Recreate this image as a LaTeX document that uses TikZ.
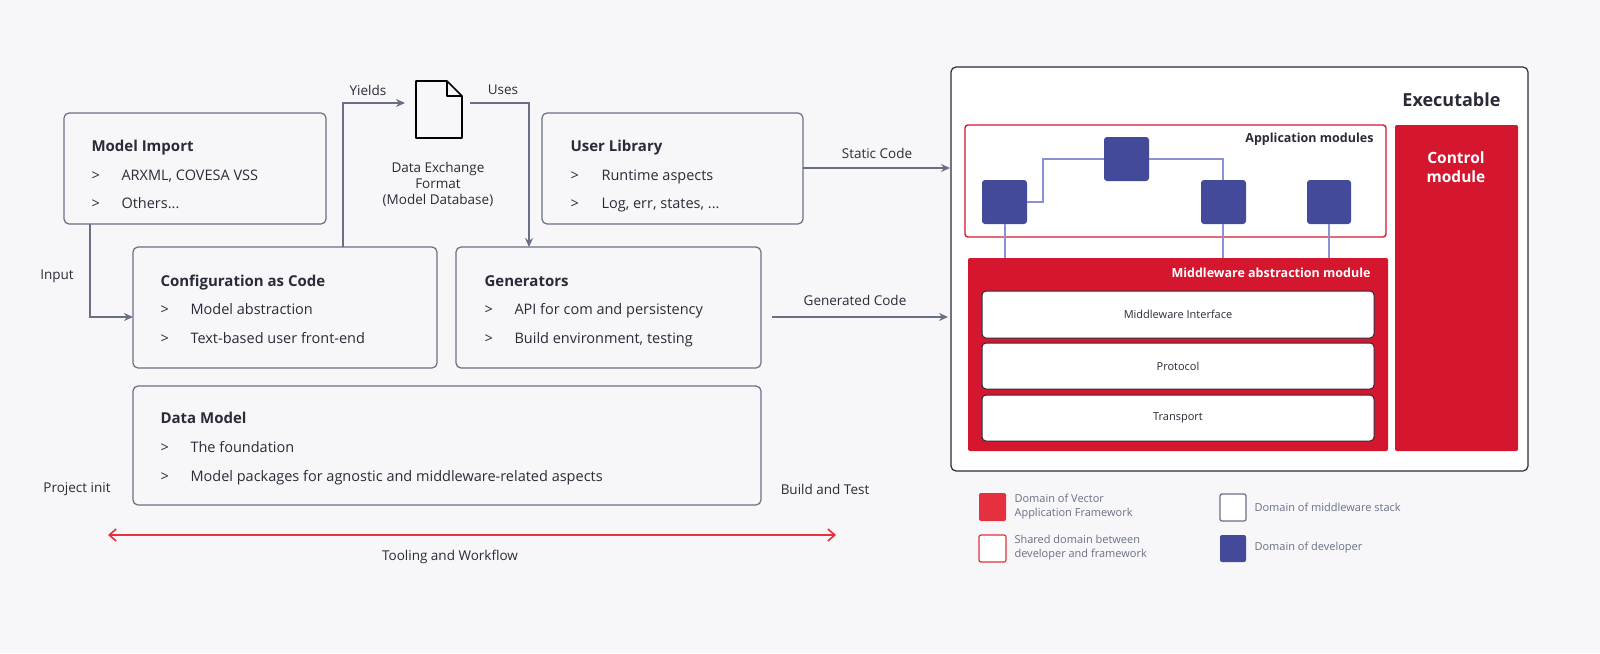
\documentclass[tikz,border=0pt]{standalone}
\usepackage{fontspec}
\setmainfont{Open Sans}
\usetikzlibrary{arrows.meta}
\definecolor{bg}{HTML}{F7F7F9}
\definecolor{gr}{HTML}{6A6F85}
\definecolor{tx}{HTML}{2A2B38}
\definecolor{rd}{HTML}{D4162F}
\definecolor{lrd}{HTML}{E4303F}
\definecolor{bl}{HTML}{434A9A}
\definecolor{lbl}{HTML}{8A90D0}
\begin{document}
\begin{tikzpicture}[x=1pt,y=-1pt,
  box/.style={draw=gr,line width=1.2pt,rounded corners=5pt,fill=bg},
  ttl/.style={anchor=base west,text=tx,font=\fontsize{15}{18}\selectfont\bfseries},
  itm/.style={anchor=base west,text=tx,font=\fontsize{14.5}{17}\selectfont},
  lbl/.style={text=tx,font=\fontsize{13.5}{16}\selectfont},
  arr/.style={draw=gr,line width=1.6pt,-{Stealth[length=9pt,width=8pt]}},
  sq/.style={fill=bl,rounded corners=3pt},
  sm/.style={text=tx,font=\fontsize{11}{13}\selectfont},
  lg/.style={anchor=west,text=gr,font=\fontsize{11}{14}\selectfont,align=left}]
\fill[bg] (0,0) rectangle (1600,653);
\useasboundingbox (0,0) rectangle (1600,653);
% boxes
\draw[box] (64,113) rectangle (326,224);
\node[ttl] (mi) at (88,151) {Model Import};
\node[itm] at (88,180) {>}; \node[itm] at (118,180) {ARXML, COVESA VSS};
\node[itm] at (88,208) {>}; \node[itm] at (118,208) {Others...};
\coordinate (miB) at (90,224);

\draw[box] (133,247) rectangle (437,368);
\node[ttl] (cc) at (157,286) {Configuration as Code};
\node[itm] at (157,314) {>}; \node[itm] at (187,314) {Model abstraction};
\node[itm] at (157,343) {>}; \node[itm] at (187,343) {Text-based user front-end};
\coordinate (ccL) at (133,317); \coordinate (ccT) at (343,247);

\draw[box] (456,247) rectangle (761,368);
\node[ttl] (ge) at (481,286) {Generators};
\node[itm] at (481,314) {>}; \node[itm] at (511,314) {API for com and persistency};
\node[itm] at (481,343) {>}; \node[itm] at (511,343) {Build environment, testing};
\coordinate (geT) at (529,247);

\draw[box] (542,113) rectangle (803,224);
\node[ttl] (ul) at (567,151) {User Library};
\node[itm] at (567,180) {>}; \node[itm] at (598,180) {Runtime aspects};
\node[itm] at (567,208) {>}; \node[itm] at (598,208) {Log, err, states, ...};
\coordinate (ulR) at (803,168);

\draw[box] (133,386) rectangle (761,505);
\node[ttl] (dm) at (157,423) {Data Model};
\node[itm] at (157,452) {>}; \node[itm] at (187,452) {The foundation};
\node[itm] at (157,481) {>}; \node[itm] at (187,481) {Model packages for agnostic and middleware-related aspects};

% document icon
\draw[line width=1.6pt,black,line join=round] (416,81) -- (447,81) -- (462,96) -- (462,138) -- (416,138) -- cycle;
\draw[line width=1.6pt,black,line join=round] (447,81) -- (447,96) -- (462,96);
\coordinate (docL) at (405,103); \coordinate (docR) at (470,103);
\node[lbl,align=center] (dx) at (438,184) {Data Exchange\\Format\\(Model Database)};
\node[lbl] at (368,90) {Yields};
\node[lbl] at (503,90) {Uses};

% arrows
\draw[arr] (ccT) |- (docL);
\draw[arr] (docR) -| (geT);
\draw[arr] (miB) |- (ccL);
\node[lbl] at (57,276) {Input};
\coordinate (ex1) at (950,168);
\draw[arr] (ulR) -- (ex1);
\node[lbl] at (877,153) {Static Code};
\coordinate (gs) at (772,317); \coordinate (ge2) at (948,317);
\draw[arr] (gs) -- (ge2);
\node[lbl] at (855,300) {Generated Code};
\node[lbl] at (77,489) {Project init};
\node[lbl] at (825,489) {Build and Test};
\coordinate (t1) at (108,535); \coordinate (t2) at (836,535);
\draw[lrd,line width=1.6pt,{Straight Barb[length=7pt,width=12pt]}-{Straight Barb[length=7pt,width=12pt]}] (t1) -- (t2);
\node[lbl] at (450,557) {Tooling and Workflow};

% executable
\draw[fill=white,draw=tx,line width=1.2pt,rounded corners=5pt] (951,67) rectangle (1528,471);
\node[anchor=east,text=tx,font=\fontsize{18}{20}\selectfont\bfseries] at (1504,100) {Executable};
\draw[draw=rd,line width=1.4pt,fill=white,rounded corners=3pt] (965,125) rectangle (1386,237);
\node[anchor=east,text=tx,font=\fontsize{12.5}{14}\selectfont\bfseries] at (1377,139) {Application modules};
\fill[rd,rounded corners=2pt] (1395,125) rectangle (1518,451);
\node[white,align=center,font=\fontsize{15.5}{19}\selectfont\bfseries] at (1456,167) {Control\\module};
\fill[rd,rounded corners=2pt] (968,258) rectangle (1388,451);
\node[anchor=east,white,font=\fontsize{12.5}{14}\selectfont\bfseries] at (1374,273) {Middleware abstraction module};
\foreach \n/\a/\b/\t in {mw/291/338/Middleware Interface,pr/343/389/Protocol,tr/395/441/Transport}{
  \draw[fill=white,draw=tx,line width=1pt,rounded corners=4pt] (982,\a) rectangle (1374,\b);
  \node[sm] (\n) at (1178,{(\a+\b)/2}) {\t};}
% squares
\fill[sq] (982,180) rectangle (1027,224);
\fill[sq] (1104,137) rectangle (1149,181);
\fill[sq] (1201,180) rectangle (1246,224);
\fill[sq] (1307,180) rectangle (1351,224);
\draw[draw=lbl,line width=1.5pt] (1027,202) -- (1043,202) -- (1043,159) -- (1104,159);
\draw[draw=lbl,line width=1.5pt] (1149,159) -- (1223,159) -- (1223,180);
\draw[draw=lbl,line width=1.5pt] (1005,224) -- (1005,258);
\draw[draw=lbl,line width=1.5pt] (1223,224) -- (1223,258);
\draw[draw=lbl,line width=1.5pt] (1329,224) -- (1329,258);

% legend
\fill[lrd,rounded corners=2pt] (979,493) rectangle (1006,521);
\node[lg] at (1011,507) {Domain of Vector\\Application Framework};
\draw[lrd,fill=white,line width=1.2pt,rounded corners=2pt] (979,535) rectangle (1006,562);
\node[lg] at (1011,548) {Shared domain between\\developer and framework};
\draw[gr,fill=white,line width=1.2pt,rounded corners=2pt] (1220,494) rectangle (1246,521);
\node[lg] at (1251,507) {Domain of middleware stack};
\fill[bl,rounded corners=2pt] (1220,535) rectangle (1246,562);
\node[lg] at (1251,548) {Domain of developer};
\end{tikzpicture}
\end{document}
